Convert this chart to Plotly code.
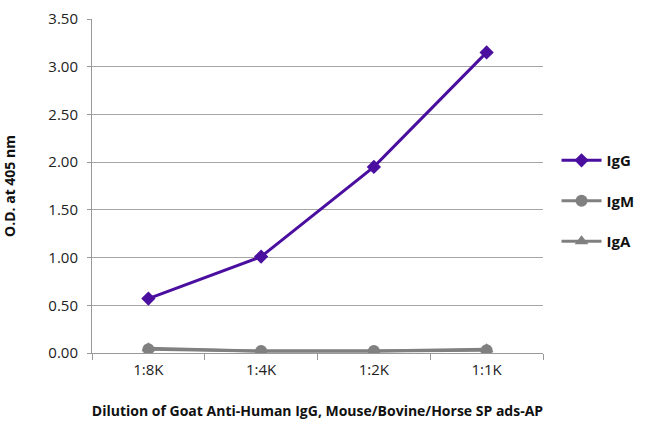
import plotly.graph_objects as go

# Data
dilutions = ['1:8K', '1:4K', '1:2K', '1:1K']
igg = [0.57, 1.01, 1.95, 3.15]
igm = [0.04, 0.02, 0.02, 0.03]
iga = [0.05, 0.02, 0.02, 0.04]

purple = '#4B0FA0'
gray = '#808080'

fig = go.Figure()

fig.add_trace(go.Scatter(
    x=dilutions, y=igg, name='<b>IgG</b>', mode='lines+markers',
    line=dict(color=purple, width=3),
    marker=dict(symbol='diamond', size=11, color=purple),
    legendgroup='g'
))
fig.add_trace(go.Scatter(
    x=dilutions, y=igm, name='<b>IgM</b>', mode='lines+markers',
    line=dict(color=gray, width=3),
    marker=dict(symbol='circle', size=12, color=gray),
    legendgroup='m'
))
fig.add_trace(go.Scatter(
    x=dilutions, y=iga, name='<b>IgA</b>', mode='lines+markers',
    line=dict(color=gray, width=3),
    marker=dict(symbol='triangle-up', size=12, color=gray),
    legendgroup='a'
))

fig.update_layout(
    width=650, height=432,
    paper_bgcolor='white', plot_bgcolor='white',
    font=dict(family='Open Sans', size=15, color='#222222'),
    margin=dict(l=92, r=107, t=19, b=79, autoexpand=False),
    legend=dict(
        x=1.03, y=0.455, xanchor='left', yanchor='middle',
        font=dict(size=15, color='#111111', family='Open Sans'),
        tracegroupgap=18,
        itemwidth=40
    ),
    xaxis=dict(
        title=dict(text='<b>Dilution of Goat Anti-Human IgG, Mouse/Bovine/Horse SP ads-AP</b>',
                   font=dict(size=14, color='#111111'), standoff=28),
        automargin=False,
        range=[-0.5, 3.5],
        showline=True, linecolor='#999999', linewidth=1,
        ticks='outside', tickson='boundaries', ticklen=6, tickcolor='#999999',
        ticklabelstandoff=3,
        showgrid=False
    ),
    yaxis=dict(
        title=dict(text='<b>O.D. at 405 nm</b>', font=dict(size=14, color='#111111'), standoff=30),
        automargin=False,
        range=[0, 3.5], dtick=0.5, tickformat='.2f',
        showline=True, linecolor='#999999', linewidth=1,
        ticks='outside', ticklen=4, tickcolor='#999999',
        ticklabelstandoff=6,
        showgrid=True, gridcolor='#A6A6A6', gridwidth=1,
        zeroline=False
    )
)

fig.write_html('out.html', config={'displayModeBar': False},
               post_script="document.body.style.margin='0';")
